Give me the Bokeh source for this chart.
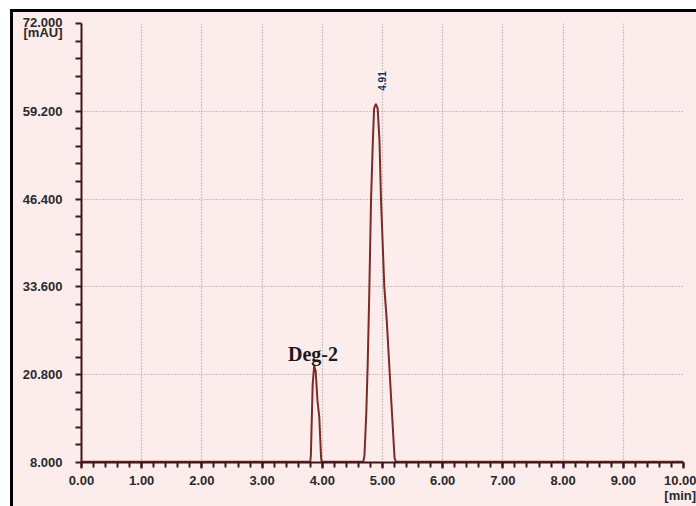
from bokeh.plotting import figure
from bokeh.models import Range1d, FixedTicker, CustomJSTickFormatter, Label
from bokeh.embed import file_html
from bokeh.resources import INLINE

# ---- data ----
time_min = [0.00, 3.80, 3.81, 3.84, 3.865, 3.89, 3.92, 3.95, 3.98, 3.99,
            4.68, 4.70, 4.73, 4.755, 4.78, 4.81, 4.84, 4.86, 4.89, 4.92,
            4.95, 4.975, 5.03, 5.07, 5.13, 5.20, 5.22, 10.00]
signal_mau = [8.1, 8.1, 9.0, 19.4, 22.1, 21.3, 17.0, 14.6, 8.7, 8.1,
              8.1, 9.0, 15.0, 22.6, 32.6, 46.4, 54.9, 59.6, 60.3, 59.6,
              54.9, 46.4, 33.6, 28.8, 19.4, 8.7, 8.1, 8.1]

y_ticks = [8.0, 20.8, 33.6, 46.4, 59.2, 72.0]
y_minor = [8.0 + 2.56 * i for i in range(26)]
x_ticks = [0, 1, 2, 3, 4, 5, 6, 7, 8, 9, 10]
x_minor = [round(0.2 * i, 2) for i in range(51)]
y_unit = "[mAU]"
x_unit = "[min]"

peak_labels = ["Deg-2", "4.91"]
peak_label_x = [3.43, 4.99]
peak_label_y = [23.8, 62.2]

BG = "#fcecec"
AXIS = "#3e1616"

# the canvas is a little taller than the window so the unit under "10.00"
# can sit below it; the host element is clipped at the window height
p = figure(width=696, height=516, output_backend="svg", toolbar_location=None,
           x_range=Range1d(0, 10), y_range=Range1d(8, 72),
           min_border_left=81, min_border_right=13, min_border_top=23,
           min_border_bottom=44)
p.background_fill_color = BG
p.border_fill_color = None
p.outline_line_color = None
p.styles = {"background-color": BG,
            "height": "506px", "max-height": "506px", "overflow": "hidden",
            "box-shadow": "inset 10px 9px 0 0 #ffffff, inset 13px 12px 0 0 #000000"}

p.line(time_min, signal_mau, line_color="#7a2a28", line_width=2)

for ax in (p.xaxis[0], p.yaxis[0]):
    ax.axis_line_color = AXIS
    ax.axis_line_width = 2
    ax.major_tick_line_color = AXIS
    ax.minor_tick_line_color = AXIS
    ax.major_tick_line_width = 2
    ax.minor_tick_line_width = 2
    ax.major_tick_in = 0
    ax.minor_tick_in = 0
    ax.major_label_text_font = "Liberation Sans"
    ax.major_label_text_font_size = "13px"
    ax.major_label_text_font_style = "bold"
    ax.major_label_text_color = "#2a2a2a"

# x axis: unit written under the last tick label
p.xaxis.ticker = FixedTicker(ticks=x_ticks, minor_ticks=x_minor)
p.xaxis.formatter = CustomJSTickFormatter(
    args=dict(last=x_ticks[-1], unit=x_unit),
    code="return tick == last ? tick.toFixed(2) + '\\n' + unit : tick.toFixed(2);")
p.xaxis.major_tick_out = 6
p.xaxis.minor_tick_out = 5
p.xaxis.major_label_standoff = 4
p.xaxis.major_label_text_line_height = 1.0

# y axis: top label carries the unit on a second line, so its label anchor
# is shifted slightly; every tick mark is drawn via the minor ticks
label_ticks = y_ticks[:-1] + [y_ticks[-1] - 0.57]
p.yaxis.ticker = FixedTicker(ticks=label_ticks, minor_ticks=y_minor)
p.yaxis.formatter = CustomJSTickFormatter(
    args=dict(top=y_ticks[-1], unit=y_unit),
    code="return tick > top - 1 ? top.toFixed(3) + '\\n' + unit : tick.toFixed(3);")
p.yaxis.major_tick_out = 0
p.yaxis.minor_tick_out = 6
p.yaxis.major_label_standoff = 13
p.yaxis.major_label_text_line_height = 0.72

p.xgrid.ticker = FixedTicker(ticks=x_ticks)
p.ygrid.ticker = FixedTicker(ticks=y_ticks)
for g in (p.xgrid[0], p.ygrid[0]):
    g.grid_line_color = "#9c9494"
    g.grid_line_dash = "1 2"
    g.grid_line_width = 1.2

# peak labels
p.add_layout(Label(x=peak_label_x[0], y=peak_label_y[0], text=peak_labels[0],
                   text_font="Liberation Serif", text_font_style="bold",
                   text_font_size="20px", text_color="#1a1a1a",
                   text_align="left", text_baseline="alphabetic"))
p.add_layout(Label(x=peak_label_x[1], y=peak_label_y[1], text=peak_labels[1],
                   angle=1.5708, text_font="Liberation Sans",
                   text_font_size="10px", text_font_style="bold",
                   text_color="#1c2a5a", text_align="left", text_baseline="middle",
                   background_fill_color="white", background_fill_alpha=0.7))

open("out.html", "w").write(file_html(p, INLINE))
